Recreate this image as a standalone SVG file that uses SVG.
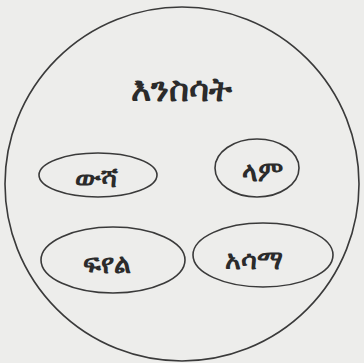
<svg xmlns="http://www.w3.org/2000/svg" width="364" height="363" viewBox="0 0 364 363">
<style>
.bg{fill:#ededeb}
.shape{fill:none;stroke:#3a3a3a;stroke-width:1.6}
.t{font-family:"Noto Sans","DejaVu Sans",sans-serif;fill:#2b2b2b;text-anchor:middle;font-weight:bold}
.big{font-size:34px}
.small{font-size:27px}
</style>
<rect class="bg" x="0" y="0" width="364" height="363"/>
<g id="animals">
<circle class="shape" cx="182" cy="184" r="177"/>
<text class="t big" x="181" y="101">እንስሳት</text>
</g>
<g id="dog">
<ellipse class="shape" cx="98" cy="175" rx="59" ry="22"/>
<text class="t small" x="96" y="187">ውሻ</text>
</g>
<g id="cow">
<ellipse class="shape" cx="257" cy="168" rx="42" ry="29"/>
<text class="t small" x="262" y="181">ላም</text>
</g>
<g id="goat">
<ellipse class="shape" cx="113" cy="260" rx="72" ry="33"/>
<text class="t small" x="107" y="273">ፍየል</text>
</g>
<g id="pig">
<ellipse class="shape" cx="263" cy="255" rx="70" ry="32"/>
<text class="t small" x="254" y="269">አሳማ</text>
</g>
<g id="connectors"></g>
</svg>
